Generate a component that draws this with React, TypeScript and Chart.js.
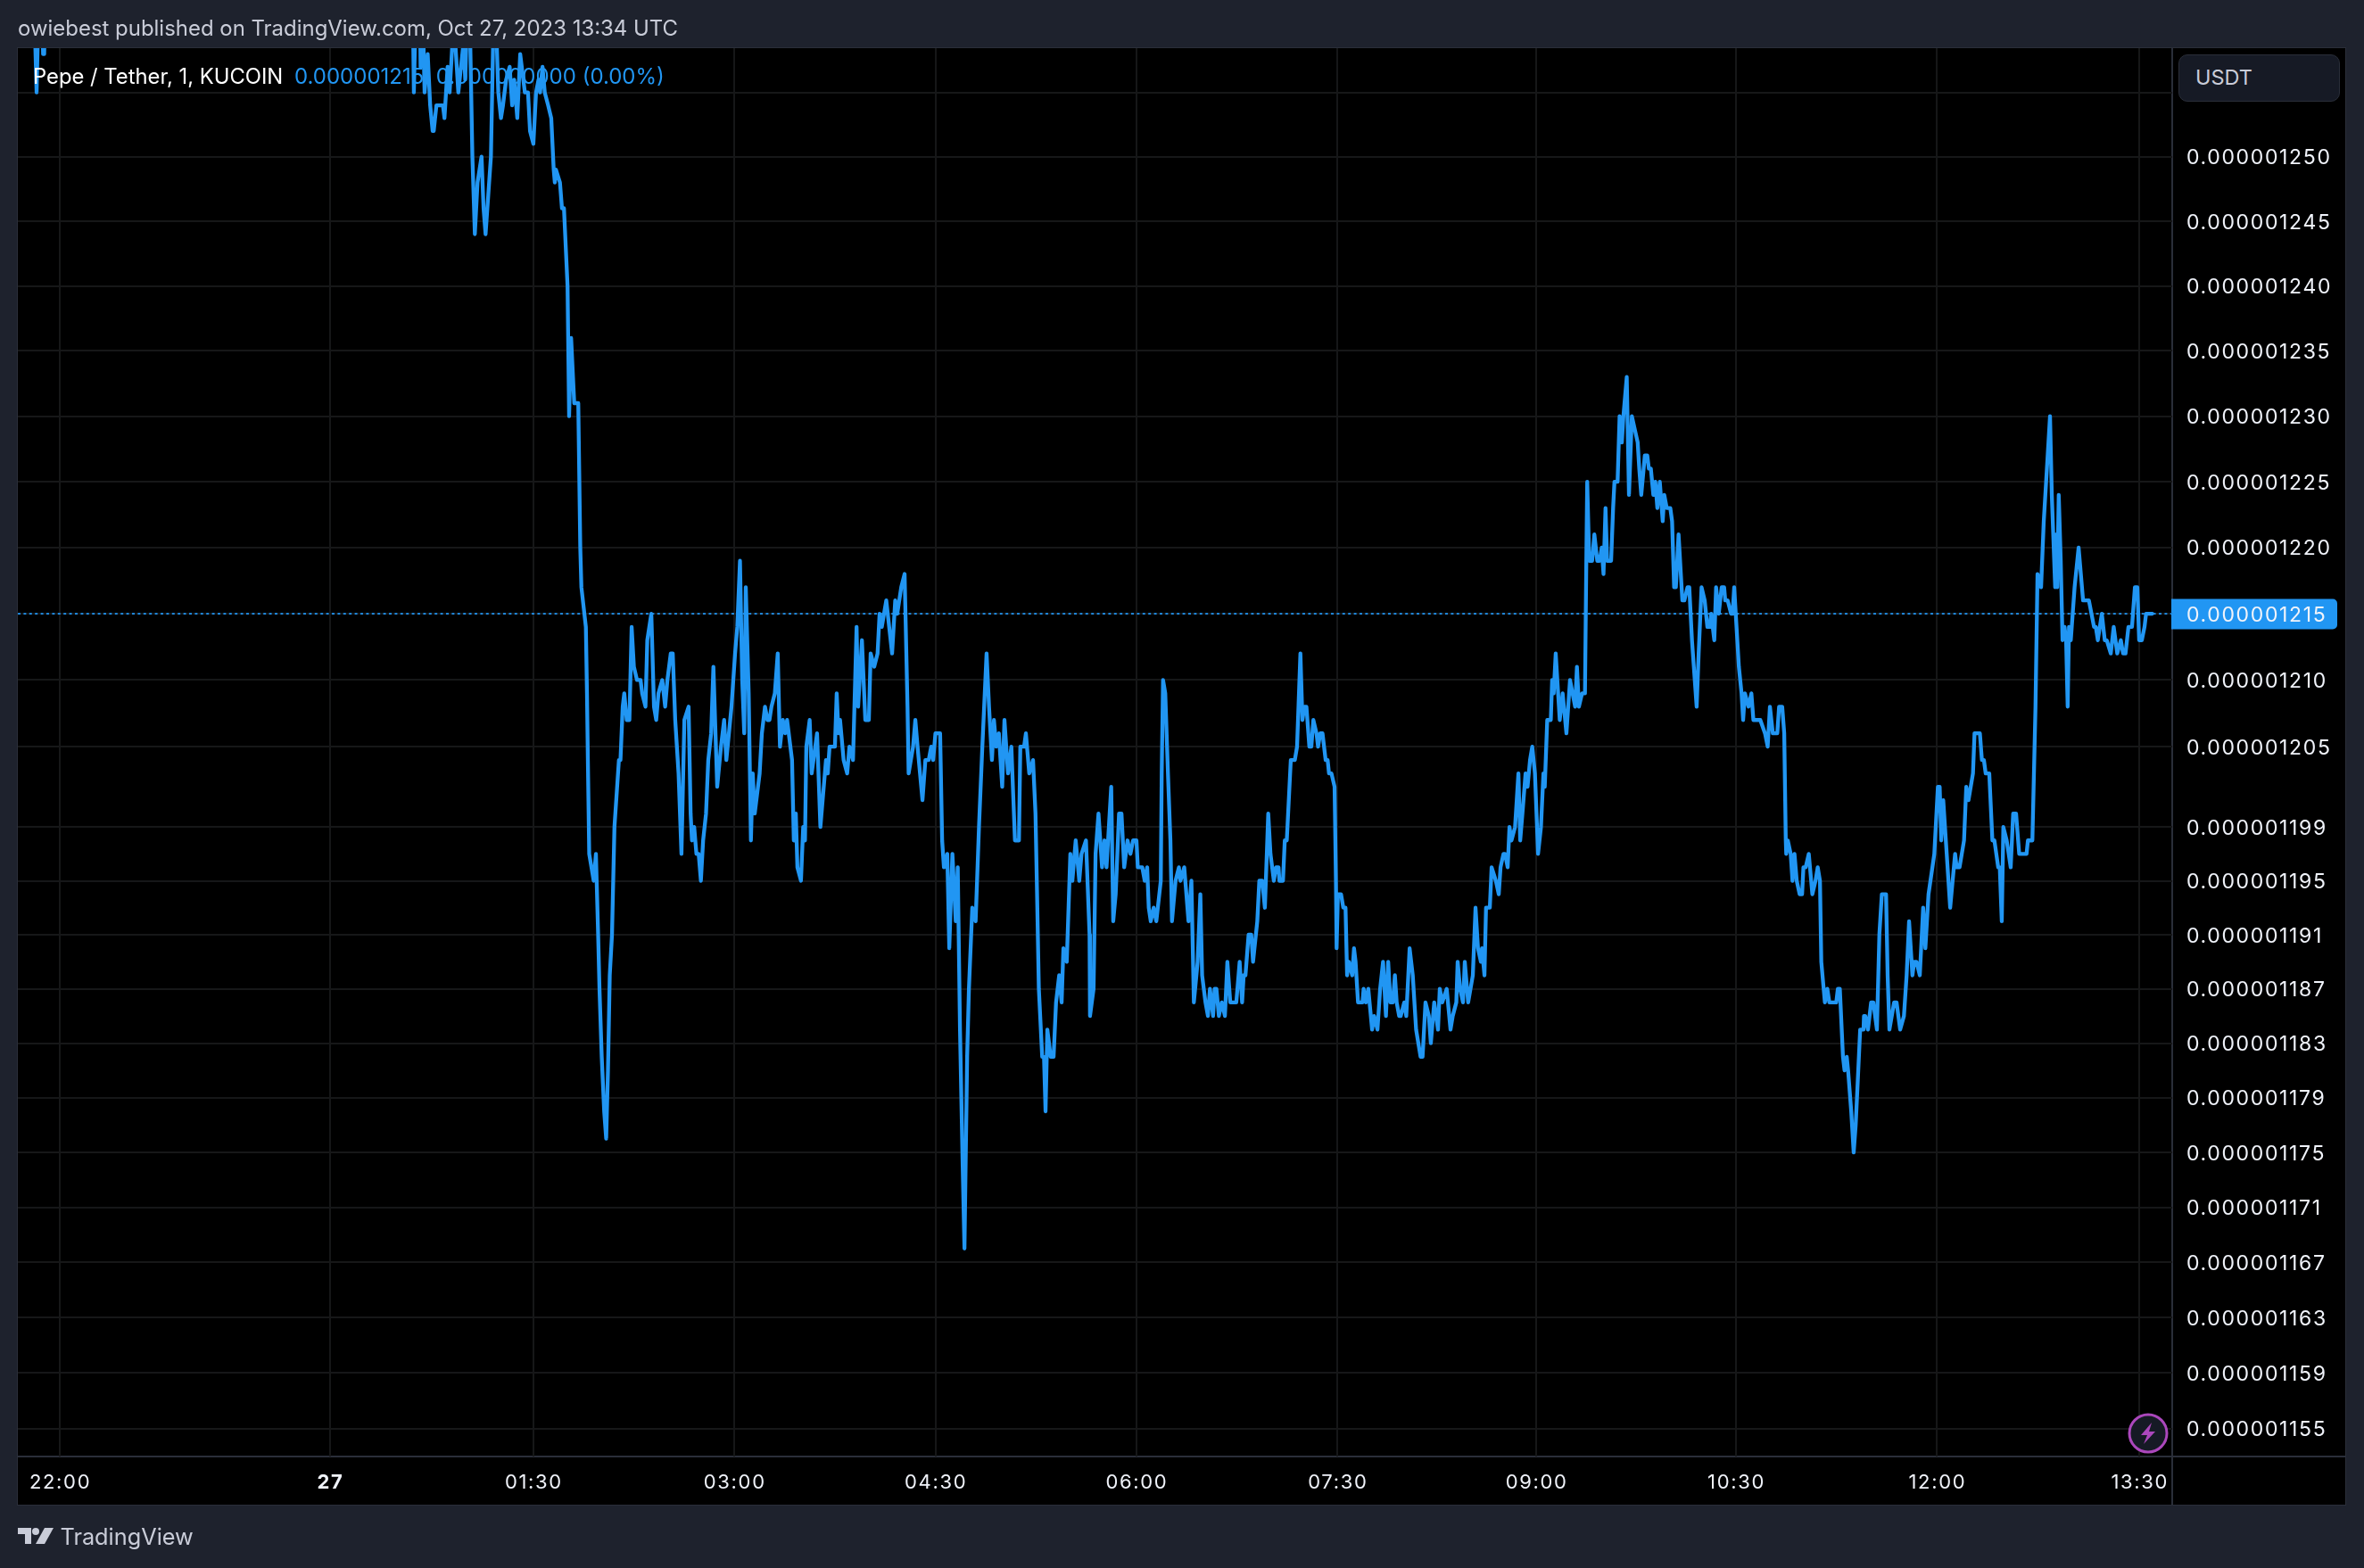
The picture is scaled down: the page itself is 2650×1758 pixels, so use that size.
import React, { useEffect, useRef } from "react";
import { Chart, registerables } from "chart.js";

Chart.register(...registerables);

const headerText = "owiebest published on TradingView.com, Oct 27, 2023 13:34 UTC";
const symbolText = "Pepe / Tether, 1, KUCOIN";
const quoteText = "0.000001215  0.000000000 (0.00%)";
const currencyText = "USDT";
const brandText = "TradingView";

// price axis ticks, in units of 0.000000001
const priceTicks = [1255, 1250, 1245, 1240, 1235, 1230, 1225, 1220, 1215, 1210, 1205, 1199, 1195, 1191, 1187, 1183, 1179, 1175, 1171, 1167, 1163, 1159, 1155];
const unlabeledPriceTicks = [1255];
const lastPrice = 1215;

// time axis ticks, bar index counted from midnight
const timeTickBars = [-121, 0, 91, 181, 271, 361, 451, 540, 629.4, 719.4, 810];
const timeTickLabels = ["22:00", "27", "01:30", "03:00", "04:30", "06:00", "07:30", "09:00", "10:30", "12:00", "13:30"];

const barIndex = [
  -132.5, -131.4, -130.5, -129, -128.5, -128, -127, -100, -50, 0, 30, 37, 37.5, 38.4, 40.2, 40.5, 41.4, 42.3, 43.7, 44.8, 45.9, 46.4, 47.6, 50.5, 51.2, 52.6, 53.5, 54.8, 56, 57.4, 59.8, 60.5, 61.5, 62.4, 63.7, 64.8, 66, 67.8, 68.7, 69.6, 70.8, 72, 73.1, 74.4, 75.3, 76.5, 77.4, 78.8, 80.4, 81.5, 82.4, 83.8, 85.1, 87.2, 88.6, 89.5, 91, 92.2, 93.3, 94, 95.1, 96.1, 97.6, 99, 100.1, 100.6, 101.1, 102.9, 103.8, 104.7, 106.3, 107, 107.9, 109.3, 111.1, 112,
  112.5, 114.5, 115, 115.4, 116, 118, 119, 120, 120.6, 121.6, 122.7, 123.6, 124.4, 125.2, 126.2, 127.3, 129.3, 130, 131, 131.7, 132.8, 134, 135, 136, 137.4, 139, 139.7, 141.2, 142, 143.8, 145, 146, 147, 148.7, 150, 151, 152.5, 153.4, 154.5, 156, 157.3, 158.6, 160.5, 161.4, 162, 163, 164, 165, 166, 167, 168.3, 169.3, 170.6, 171.6, 173.3, 175, 176.4, 177.4, 179.7, 181.3, 182.3, 183.5, 184.5, 185.4, 186.1, 187.4, 188.4, 189.2, 190.1, 192.3, 193.3, 194.7, 195.8, 196.7, 197.6, 199.1, 200.4, 201.4, 202.7, 203.7, 204.6, 206.8, 207.6, 208.5, 209.2, 210.8, 211.8, 212.6, 213.2, 214.7, 215.6, 218, 219.5, 222, 222.8, 223.6, 226, 226.8, 227.6, 228.3, 229.9, 231.5, 232.5, 234.1, 235.7, 236.4, 238.1, 239.6, 241.2, 242, 243.6, 245.1, 246, 247, 249, 251.6, 253, 253.9, 255.7, 257.2, 258.5, 259, 261, 262, 263, 265.2, 266.5, 268, 269.1, 270, 271, 273.1, 274, 274.8, 276.3, 277.2, 278.6, 280.1, 281, 282, 283.2, 284, 285.2, 286, 287.5, 289, 290.5, 292, 293.9, 295, 296.3, 297.2, 298.2, 299.4, 300.9, 301.9, 303.5, 305, 306.6, 308.4, 309, 310.7, 311.5, 313, 314.7, 315.8, 316.5, 317.3, 318.8, 319.6, 320.3, 321.1, 322.6, 323.9, 325, 326.4, 327.5, 328.3, 329.8,
  331.4, 332.3, 333.8, 335.4, 336.4, 338.4, 340, 340.2, 341.8, 342.7, 344, 345.6, 346.7, 347.6, 349.7, 350.6, 351.7, 353.2, 354.3, 355.5, 357, 358.3, 359.5, 361, 361.6, 363.6, 364.7, 365.8, 366.5, 367.4, 368.7, 369.9, 371.9, 372.3, 372.9, 373.9, 375.1, 376.2, 376.9, 378.5, 380, 380.7, 382.4, 384.3, 385.6, 386.7, 388.4, 389.6, 390.4, 391.9, 393, 393.9, 395.3, 396, 396.8, 397.9, 399.2, 400.6, 401.7, 403, 405.7, 407.2, 408.3, 409, 409.8, 411.2, 412.4, 413.2, 415.1, 416, 417.3, 418.5, 420, 421, 422.5, 423.5, 424.6, 425, 426.6, 427.4, 428.3, 430.1, 431.9, 432.9, 434.4, 435.3, 436.2, 437.1, 438.4, 439.3, 440.2, 441.6, 442.3, 443.3, 444.3, 445.7, 446.6, 447.2, 448.3, 449.7, 450.3, 450.6, 451.2, 452.6, 453.6, 454.6, 455.3, 456.1, 457.6, 458.4, 459.1, 460.2, 462.2, 462.7, 463.7, 464.8, 466.5, 467.4, 468.9, 470.1, 471.4, 472.7, 473.7, 474.7, 475.8, 476.7, 477.5, 478.6, 479.3, 480.9, 481.8, 483.3, 484.7, 486.2, 488.2, 489.1, 490.4,
  491.9, 492.8, 494.3, 496, 496.8, 497.9, 499.9, 501.6, 502.6, 504.2, 504.8, 505.9, 507.2, 508, 509.5, 511.6, 512.8, 513.9, 515.2, 515.7, 516.8, 517.5, 519.2, 520, 521.9, 523.2, 524, 525.3, 526, 527.2, 528, 528.9, 530.5, 532, 532.8, 533.8, 535.2, 536.1, 537.2, 538.2, 539.4, 540.8, 542.1, 543.2, 543.8, 544.9, 546.5, 547.1, 547.8, 548.7, 550.5, 551.8, 553.5, 555.1, 557.4, 558.2, 559.1, 560.5, 561.8,
  562.4, 562.8, 563.7, 565, 566, 567.3, 568.4, 569.3, 570.1, 571, 571.7, 573.5, 574.4, 575, 576.4, 577.3, 578.3, 579, 580.5, 581.5, 582.8, 584.1, 585.4, 586.1, 587, 588.6, 589.7, 590.4, 591.3, 592.4, 593.3, 594.2, 595.3, 596.6, 597.3, 598.4, 600, 600.8, 601.7, 602.5, 603.7, 605.4, 606.3, 607.7, 608.5, 609.7, 611.8, 612.7, 614, 615.4, 616.6, 617.7, 618.3, 619.7, 620.5, 621.7, 623, 624.1, 624.6, 625.7, 627.2, 627.9, 628.6, 630.7, 631.9, 632.6, 633.4, 635, 636.3, 637.2, 640.3, 642.4, 643.6, 644.6, 645.9, 647.9, 648.7, 650.1, 651,
  651.7, 651.9, 652.6, 653.9, 654.7, 655.6, 656.6, 657.9, 659, 659.6, 660.6, 662, 663.6, 665, 666, 667, 667.6, 669.2, 670.3, 671.2, 674.3, 675, 675.9, 677.3, 678, 679, 679.6, 681, 682.1, 683, 685, 686.5, 686.7, 687.3, 688.5, 689.9, 690.9, 692.5, 693.6, 694.7, 696.6, 697.3, 698.1, 700.2, 701.3, 702.9, 704.6, 705.8, 706.9, 708.4, 709.2, 710.2, 711.7, 713.2, 714.2, 715.6, 718.2, 719.8, 720.6, 721.3, 722.2, 725.3, 727.5, 728.2, 729.5, 731.5, 732.5, 733.5, 735.5, 736.2, 738.6, 739.5, 740.4, 741.2, 742.8, 744.2, 745.1, 746.8, 747.5, 748.4, 749.1, 750.6, 752.4, 753.5, 754.8, 756.2, 759.5, 760.1, 762.1, 763.5, 764.4, 766, 767.2, 770, 770.8, 772.3, 772.8, 773.2, 773.9, 774.8, 775.6, 776.5, 777.2, 777.9, 778.5, 779.3, 781, 782.8, 784.8, 787.4, 789.7, 790.5, 791.4, 793.2, 794.5, 795.4, 797.2, 798.5, 800.1, 801.7, 802.7, 803.8, 805.1, 806.7, 808, 809.1, 809.9, 811.1, 812.3, 813, 814, 815.8,
];

// close price, in units of 0.000000001
const priceNano = [
  1262, 1255, 1262, 1262, 1258, 1258, 1270, 1275, 1282, 1272, 1268, 1262, 1255, 1262, 1262, 1257, 1262, 1255, 1258, 1254, 1252, 1252, 1254, 1254, 1253, 1257, 1255, 1259, 1259, 1255, 1259, 1256, 1262, 1262, 1250, 1244, 1248, 1250, 1246, 1244, 1247, 1250, 1260, 1260, 1255, 1253, 1254, 1256, 1257, 1254, 1256, 1253, 1258, 1255, 1255, 1252, 1251, 1255, 1256, 1255, 1257, 1255, 1254, 1253, 1249, 1248, 1249, 1248, 1246, 1246, 1240, 1230, 1236, 1231, 1231, 1220,
  1217, 1214, 1209, 1204, 1197, 1195, 1197, 1191, 1187, 1182, 1178, 1176, 1181, 1188, 1191, 1199, 1204, 1204, 1208, 1209, 1207, 1207, 1214, 1211, 1210, 1210, 1209, 1208, 1213, 1215, 1208, 1207, 1209, 1210, 1208, 1210, 1212, 1212, 1207, 1203, 1197, 1207, 1208, 1200, 1198, 1199, 1197, 1197, 1195, 1198, 1200, 1204, 1206, 1211, 1202, 1205, 1207, 1204, 1208, 1212, 1214, 1219, 1210, 1206, 1217, 1209, 1198, 1203, 1200, 1203, 1206, 1208, 1207, 1207, 1208, 1209, 1212, 1205, 1207, 1206, 1207, 1204, 1198, 1200, 1196, 1195, 1199, 1198, 1205, 1207, 1203, 1206, 1199, 1204, 1203, 1205, 1205, 1209, 1206, 1207, 1204, 1203, 1205, 1204, 1214, 1208, 1213, 1207, 1207, 1212, 1211, 1212, 1215, 1214, 1216, 1212, 1216, 1215, 1217, 1218, 1208, 1203, 1205, 1207, 1205, 1201, 1204, 1204, 1205, 1204, 1206, 1206, 1198, 1196, 1197, 1190, 1197, 1192, 1196, 1184, 1174, 1168, 1182, 1187, 1193, 1192, 1199, 1205, 1212, 1208, 1204, 1207, 1205, 1206, 1202, 1207, 1203, 1205, 1198, 1198, 1205, 1205, 1206, 1203, 1204, 1200, 1194, 1187, 1182, 1182, 1178, 1184, 1182, 1182, 1186, 1188, 1186, 1190, 1189,
  1197, 1195, 1198, 1195, 1197, 1198, 1191, 1185, 1187, 1197, 1200, 1196, 1198, 1196, 1202, 1192, 1194, 1200, 1200, 1196, 1198, 1197, 1198, 1198, 1196, 1196, 1195, 1196, 1193, 1192, 1193, 1192, 1195, 1203, 1210, 1209, 1203, 1198, 1192, 1195, 1196, 1195, 1196, 1192, 1195, 1186, 1189, 1194, 1188, 1186, 1185, 1187, 1185, 1187, 1187, 1185, 1186, 1185, 1189, 1186, 1186, 1189, 1186, 1188, 1188, 1191, 1191, 1189, 1192, 1195, 1195, 1193, 1200, 1197, 1195, 1196, 1196, 1195, 1195, 1198, 1198, 1204, 1204, 1205, 1212, 1207, 1208, 1208, 1205, 1205, 1207, 1206, 1205, 1206, 1206, 1204, 1204, 1203, 1203, 1202, 1195, 1190, 1194, 1194, 1193, 1193, 1188, 1189, 1188, 1190, 1189, 1186, 1186, 1187, 1186, 1187, 1184, 1185, 1184, 1187, 1189, 1185, 1189, 1186, 1186, 1188, 1186, 1185, 1185, 1186, 1185, 1190, 1188, 1184, 1182, 1182, 1186,
  1185, 1183, 1186, 1184, 1187, 1186, 1187, 1184, 1185, 1186, 1189, 1187, 1186, 1189, 1186, 1188, 1193, 1190, 1189, 1190, 1188, 1193, 1193, 1196, 1195, 1194, 1196, 1197, 1197, 1196, 1199, 1198, 1199, 1203, 1198, 1200, 1203, 1202, 1204, 1205, 1203, 1197, 1199, 1203, 1202, 1207, 1207, 1210, 1209, 1212, 1207, 1209, 1206, 1210, 1208, 1211, 1208, 1209, 1209,
  1219, 1225, 1219, 1219, 1221, 1219, 1219, 1220, 1218, 1223, 1219, 1219, 1223, 1225, 1225, 1230, 1228, 1230, 1233, 1224, 1230, 1229, 1228, 1226, 1224, 1227, 1227, 1226, 1226, 1224, 1225, 1223, 1225, 1222, 1224, 1223, 1223, 1222, 1217, 1217, 1221, 1216, 1216, 1217, 1217, 1213, 1208, 1212, 1217, 1216, 1214, 1214, 1215, 1213, 1217, 1215, 1217, 1217, 1216, 1216, 1215, 1215, 1217, 1211, 1209, 1207, 1209, 1208, 1209, 1207, 1207, 1206, 1205, 1208, 1206, 1206, 1208, 1208, 1206,
  1198, 1197, 1198, 1197, 1195, 1197, 1195, 1194, 1194, 1196, 1196, 1197, 1194, 1195, 1196, 1195, 1189, 1186, 1187, 1186, 1186, 1187, 1187, 1182, 1181, 1182, 1181, 1178, 1175, 1177, 1184, 1184, 1185, 1185, 1184, 1186, 1186, 1184, 1191, 1194, 1194, 1188, 1184, 1186, 1186, 1184, 1185, 1188, 1192, 1188, 1189, 1189, 1188, 1193, 1190, 1194, 1197, 1202, 1202, 1198, 1201, 1193, 1197, 1196, 1196, 1198, 1202, 1201, 1203, 1206, 1206, 1204, 1204, 1203, 1203, 1198, 1198, 1196, 1196, 1192, 1199, 1198, 1196, 1200, 1200, 1197, 1197, 1198, 1198, 1208, 1218, 1217, 1222, 1230, 1224, 1217, 1221, 1217, 1224, 1219, 1213, 1214, 1213, 1208, 1214, 1213, 1217, 1220, 1216, 1216, 1214, 1214, 1213, 1215, 1213, 1213, 1212, 1214, 1212, 1213, 1212, 1212, 1214, 1214, 1217, 1217, 1213, 1213, 1214, 1215, 1215, 1215,
];

const xMin = -139.8;
const xMax = 824.7;
const yMin = 1153.0;
const yMax = 1258.46;

const uiFont = "Inter, 'Noto Sans', sans-serif";
const lineBlue = "#2196f3";
const panelBg = "#1e222d";
const edge = "#2a2e39";
const muted = "#c9ccd8";
const gridColor = "#161718";

const priceLabel = (v: number) => (v / 1e9).toFixed(9);

const lastPriceBox = {
  id: "lastPriceBox",
  beforeDraw(chart: any) {
    const y = chart.scales.y.getPixelForValue(lastPrice);
    const { ctx, chartArea } = chart;
    ctx.save();
    ctx.fillStyle = lineBlue;
    ctx.beginPath();
    ctx.roundRect(chartArea.right - 1, y - 16.5, 186, 34, [0, 5, 5, 0]);
    ctx.fill();
    ctx.restore();
    // the axis labels of the reference are set with a little tracking
    ctx.letterSpacing = "1.65px";
  },
};

export default function App() {
  const ref = useRef<HTMLCanvasElement>(null);

  useEffect(() => {
    document.body.style.margin = "0";
    document.body.style.overflow = "hidden";
    document.body.style.background = panelBg;
    const chart = new Chart(ref.current as HTMLCanvasElement, {
      type: "line",
      data: {
        datasets: [
          {
            label: "Close",
            data: barIndex.map((x, i) => ({ x, y: priceNano[i] })),
            borderColor: lineBlue,
            borderWidth: 4.3,
            pointRadius: 0,
            tension: 0,
            borderJoinStyle: "round",
            borderCapStyle: "round",
            order: 1,
          },
          {
            label: "Last price",
            data: [
              { x: xMin, y: lastPrice },
              { x: xMax, y: lastPrice },
            ],
            borderColor: lineBlue,
            borderWidth: 1.8,
            borderDash: [3, 3.4],
            pointRadius: 0,
            order: 2,
          },
        ],
      },
      options: {
        animation: false,
        responsive: false,
        devicePixelRatio: 1,
        parsing: false,
        normalized: true,
        layout: { padding: { left: 20, top: 54, right: 20, bottom: 70.5 } },
        plugins: { legend: { display: false }, tooltip: { enabled: false }, title: { display: false } },
        scales: {
          x: {
            type: "linear",
            min: xMin,
            max: xMax,
            afterBuildTicks: (s: any) => {
              s.ticks = timeTickBars.map((value) => ({ value }));
            },
            afterFit: (s: any) => {
              s.height = 54.5;
            },
            grid: { color: gridColor, lineWidth: 2, drawTicks: false },
            border: { display: false },
            ticks: {
              autoSkip: false,
              maxRotation: 0,
              padding: 16,
              labelOffset: 0.5,
              color: "#f0f3fa",
              font: (c: any) => ({ family: uiFont, size: 22, weight: c.tick && c.tick.value === 0 ? "bold" : "normal" }),
              callback: (_v: any, i: number) => timeTickLabels[i],
            },
          },
          y: {
            type: "logarithmic",
            position: "right",
            min: yMin,
            max: yMax,
            afterBuildTicks: (s: any) => {
              s.ticks = priceTicks.map((value) => ({ value }));
            },
            afterFit: (s: any) => {
              s.width = 195;
            },
            grid: { color: gridColor, lineWidth: 2, drawTicks: false },
            border: { display: false },
            ticks: {
              autoSkip: false,
              crossAlign: "near",
              padding: 16,
              labelOffset: 1.6,
              color: "#f0f3fa",
              font: { family: uiFont, size: 23 },
              callback: (v: any) => (unlabeledPriceTicks.includes(v) ? "" : priceLabel(v)),
            },
          },
        },
      },
      plugins: [lastPriceBox],
    } as any);
    return () => chart.destroy();
  }, []);

  return (
    <div style={{ position: "absolute", left: 0, top: 0, width: 2650, height: 1758, background: panelBg, overflow: "hidden", fontFamily: uiFont }}>
      <div style={{ position: "absolute", left: 19, top: 53, width: 2611, height: 1635, background: "#000", border: `1.5px solid ${edge}`, boxSizing: "border-box" }} />
      <div style={{ position: "absolute", left: 20, top: 1632, width: 2610, height: 2, background: edge }} />
      <div style={{ position: "absolute", left: 2434, top: 54, width: 2, height: 1633, background: edge }} />
      <canvas ref={ref} width={2650} height={1758} style={{ position: "absolute", left: 0, top: 0, width: 2650, height: 1758 }} />
      <div style={{ position: "absolute", left: 20, top: 18, fontSize: 23.95, lineHeight: "28px", color: muted, whiteSpace: "nowrap" }}>{headerText}</div>
      <div style={{ position: "absolute", left: 37, top: 72, fontSize: 23.8, lineHeight: "28px", color: "#fff", whiteSpace: "nowrap" }}>{symbolText}</div>
      <div style={{ position: "absolute", left: 330, top: 72, fontSize: 24, lineHeight: "28px", color: lineBlue, whiteSpace: "pre" }}>{quoteText}</div>
      <div style={{ position: "absolute", left: 2442, top: 61, width: 181, height: 53, boxSizing: "border-box", background: "#161a25", border: `1.5px solid ${edge}`, borderRadius: 10, color: muted, fontSize: 23.5, lineHeight: "50px", paddingLeft: 18 }}>{currencyText}</div>
      <svg style={{ position: "absolute", left: 2385, top: 1584, width: 46, height: 46 }} viewBox="0 0 46 46">
        <circle cx="23" cy="23" r="21" fill="#161a25" stroke="#ab47bc" strokeWidth="3" />
        <path d="M27 11 L15 25 H22 L18 35 L31 21 H24 Z" fill="#ab47bc" />
      </svg>
      <svg style={{ position: "absolute", left: 20, top: 1712, width: 40, height: 20 }} viewBox="0 0 40 20">
        <path d="M0 1 H15 V19 H8 V8 H0 Z" fill={muted} />
        <circle cx="20" cy="5" r="4" fill={muted} />
        <path d="M30 1 H40 L30 19 H20 Z" fill={muted} />
      </svg>
      <div style={{ position: "absolute", left: 67.5, top: 1708, fontSize: 25.3, lineHeight: "30px", color: muted, whiteSpace: "nowrap" }}>{brandText}</div>
    </div>
  );
}
